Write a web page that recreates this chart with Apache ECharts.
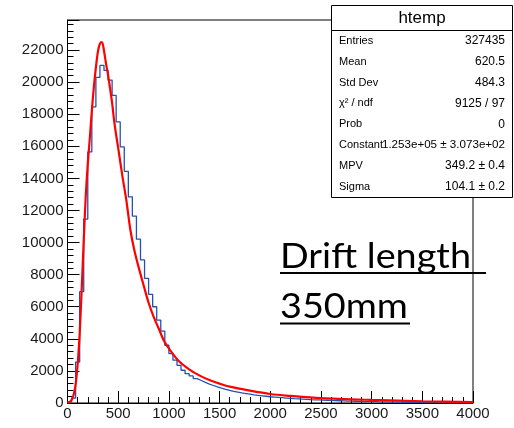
<!DOCTYPE html>
<html><head><meta charset="utf-8">
<script src="https://cdn.jsdelivr.net/npm/echarts@6/dist/echarts.min.js"></script>
<style>html,body{margin:0;padding:0;background:#fff}#c{width:514px;height:428px}</style>
</head><body><div id="c"></div>
<script>
// ---- data ----
const binLow = 0;
const binWidth = 40;
const histValues = [
  60, 300, 2550, 6940, 11460, 15650, 18460, 20300, 21040, 20730,
  20125, 19170, 17520, 15960, 14440, 12850, 11650, 10210, 8920, 7770,
  6770, 6000, 5170, 4480, 3600, 3080, 2670, 2350, 2040, 1830,
  1690, 1520, 1400, 1280, 1180, 1090, 1000, 920, 850, 790,
  730, 680, 630, 590, 550, 510, 480, 450, 420, 390,
  370, 350, 330, 310, 290, 270, 255, 240, 225, 210,
  200, 190, 180, 170, 160, 150, 140, 130, 120, 115,
  110, 100, 95, 90, 85, 80, 75, 70, 65, 60,
  55, 50, 45, 40, 38, 35, 33, 30, 28, 26,
  24, 22, 20, 18, 17, 16, 15, 14, 13, 12
];
const fitX = [0, 20, 40, 60, 80, 100, 120, 140, 160, 180, 200, 220, 240, 260, 280, 300, 320, 340, 360, 380,
  400, 420, 440, 460, 480, 500, 540, 580, 620, 660, 700, 750, 800, 850, 900, 950, 1000, 1100, 1200, 1300,
  1400, 1500, 1600, 1800, 2000, 2200, 2500, 3000, 3500, 4000];
const fitY = [20, 60, 190, 500, 1150, 2400, 4300, 7100, 10100, 12900, 14900, 16500, 18200, 19700, 20900, 21900, 22400, 22500, 21950, 21150,
  20450, 19600, 18700, 17600, 16700, 15900, 14200, 12650, 10800, 9500, 8500, 7350, 6250, 5370, 4640, 3900, 3400, 2600, 2100, 1720,
  1430, 1210, 1020, 770, 560, 440, 300, 190, 110, 60];
const xTickValues = [0, 500, 1000, 1500, 2000, 2500, 3000, 3500, 4000];
const yTickValues = [0, 2000, 4000, 6000, 8000, 10000, 12000, 14000, 16000, 18000, 20000, 22000];
const statsTitle = 'htemp';
const statsLabels = ['Entries', 'Mean', 'Std Dev', 'χ² / ndf', 'Prob', 'Constant', 'MPV', 'Sigma'];
const statsValues = ['327435', '620.5', '484.3', '9125 / 97', '0', '1.253e+05 ± 3.073e+02', '349.2 ± 0.4', '104.1 ± 0.2'];
const noteLines = ['Drift length ', '350mm'];

// ---- build ----
const histData = histValues.map((v, i) => [binLow + i * binWidth, v]);
histData.push([binLow + histValues.length * binWidth, histValues[histValues.length - 1]]);
const fitData = fitX.map((x, i) => [x, fitY[i]]);

const font = '"Liberation Sans", Arial, sans-serif';
const graphics = [];
// stats box
graphics.push({ type: 'rect', z: 100, shape: { x: 331.5, y: 5.5, width: 181, height: 192 },
  style: { fill: '#fff', stroke: '#000', lineWidth: 1 } });
graphics.push({ type: 'line', z: 101, shape: { x1: 331.5, y1: 30.5, x2: 512.5, y2: 30.5 },
  style: { stroke: '#000', lineWidth: 1 } });
graphics.push({ type: 'text', z: 102, x: 422, y: 18,
  style: { text: statsTitle, font: '17px ' + font, fill: '#000', align: 'center', verticalAlign: 'middle' } });
statsLabels.forEach((lab, i) => {
  const y = 41 + i * 20.8;
  graphics.push({ type: 'text', z: 102, x: 339, y: y,
    style: { text: lab, font: '11px ' + font, fill: '#000', align: 'left', verticalAlign: 'middle' } });
  const vs = statsValues[i].length > 12 ? 11.6 : 12;
  graphics.push({ type: 'text', z: 102, x: 505, y: y,
    style: { text: statsValues[i], font: vs + 'px ' + font, fill: '#000', align: 'right', verticalAlign: 'middle' } });
});
// annotation text
const noteFont = '35px Lato, "Open Sans", sans-serif';
graphics.push({ type: 'text', z: 50, x: 280, y: 239, scaleX: 1.08,
  style: { text: noteLines[0], font: noteFont, fill: '#000', align: 'left', verticalAlign: 'top' } });
graphics.push({ type: 'line', z: 50, shape: { x1: 280, y1: 273, x2: 486, y2: 273 }, style: { stroke: '#000', lineWidth: 2 } });
graphics.push({ type: 'text', z: 50, x: 280, y: 289, scaleX: 1.08,
  style: { text: noteLines[1], font: noteFont, fill: '#000', align: 'left', verticalAlign: 'top' } });
graphics.push({ type: 'line', z: 50, shape: { x1: 280, y1: 323.5, x2: 410, y2: 323.5 }, style: { stroke: '#000', lineWidth: 2 } });

const chart = echarts.init(document.getElementById('c'), null, { renderer: 'canvas' });
chart.setOption({
  animation: false,
  backgroundColor: '#fff',
  grid: { left: 67.5, right: 41, top: 20, bottom: 25, show: true, borderColor: '#000', borderWidth: 1, backgroundColor: 'transparent' },
  xAxis: {
    type: 'value', min: xTickValues[0], max: xTickValues[xTickValues.length - 1], interval: xTickValues[1] - xTickValues[0],
    axisLine: { show: true, onZero: false, lineStyle: { color: '#000', width: 1 } },
    axisTick: { show: true, inside: true, length: 12, lineStyle: { color: '#000', width: 1 } },
    minorTick: { show: true, splitNumber: 5, length: 6, lineStyle: { color: '#000', width: 1 } },
    splitLine: { show: false },
    axisLabel: { color: '#1a1a1a', fontSize: 15, fontFamily: font, margin: 3,
      formatter: v => xTickValues.includes(v) ? String(v) : '' }
  },
  yAxis: {
    type: 'value', min: 0, max: 23870, interval: yTickValues[1] - yTickValues[0],
    axisLine: { show: true, lineStyle: { color: '#000', width: 1 } },
    axisTick: { show: true, inside: true, length: 12, lineStyle: { color: '#000', width: 1 } },
    minorTick: { show: true, splitNumber: 5, length: 6, lineStyle: { color: '#000', width: 1 } },
    splitLine: { show: false },
    axisLabel: { color: '#1a1a1a', fontSize: 15, fontFamily: font, margin: 4, showMaxLabel: false,
      formatter: v => yTickValues.includes(v) ? String(v) : '' }
  },
  series: [
    { type: 'line', data: histData, step: 'end', symbol: 'none', silent: true,
      lineStyle: { color: '#2450b0', width: 1.3 }, z: 2 },
    { type: 'line', data: fitData, smooth: 0.3, symbol: 'none', silent: true,
      lineStyle: { color: '#ff0000', width: 2.2 }, z: 3 }
  ],
  graphic: graphics
});
</script>
</body></html>
